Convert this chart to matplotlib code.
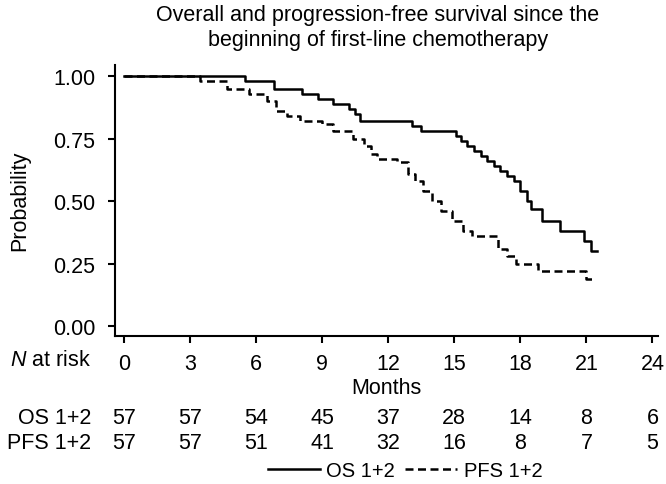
import matplotlib

matplotlib.use("Agg")

import matplotlib.pyplot as plt
from matplotlib.lines import Line2D
from matplotlib.transforms import blended_transform_factory

plt.rcParams["font.family"] = ["Liberation Sans", "DejaVu Sans"]
plt.rcParams["mathtext.fontset"] = "custom"
plt.rcParams["mathtext.it"] = "Liberation Sans:italic"
plt.rcParams["mathtext.rm"] = "Liberation Sans"

# Kaplan-Meier steps (months, probability)
os_time = [0, 5.5, 6.8, 8.1, 8.8, 9.5, 10.2, 10.5, 10.7, 13.1, 13.5, 15.1, 15.3, 15.6,
           15.9, 16.2, 16.5, 16.8, 17.1, 17.4, 17.7, 18.0, 18.3, 18.5, 19.0, 19.8, 20.9,
           21.2, 21.5]
os_surv = [1.0, 0.982, 0.947, 0.93, 0.91, 0.89, 0.87, 0.85, 0.82, 0.80, 0.78, 0.76, 0.74,
           0.72, 0.70, 0.68, 0.66, 0.64, 0.62, 0.60, 0.58, 0.54, 0.50, 0.47, 0.42, 0.38,
           0.34, 0.30, 0.30]

pfs_time = [0, 3.45, 4.7, 5.7, 6.5, 6.9, 7.4, 8.0, 9.0, 9.5, 10.4, 10.9, 11.2, 11.5,
            12.4, 12.9, 13.2, 13.6, 14.0, 14.4, 14.9, 15.4, 15.8, 17.0, 17.4, 17.8, 18.8,
            21.0, 21.4]
pfs_surv = [1.0, 0.982, 0.947, 0.93, 0.90, 0.86, 0.84, 0.82, 0.81, 0.78, 0.75, 0.72, 0.69,
            0.67, 0.655, 0.61, 0.58, 0.54, 0.50, 0.46, 0.42, 0.38, 0.36, 0.31, 0.28, 0.25,
            0.22, 0.19, 0.19]

risk_times = [0, 3, 6, 9, 12, 15, 18, 21, 24]
os_risk = [57, 57, 54, 45, 37, 28, 14, 8, 6]
pfs_risk = [57, 57, 51, 41, 32, 16, 8, 7, 5]
y_ticks = [0.0, 0.25, 0.5, 0.75, 1.0]

W, H = 666, 485
fig = plt.figure(figsize=(W / 100, H / 100), dpi=100)
ax = fig.add_axes([115 / W, 1 - 337 / H, (658 - 115) / W, (337 - 66) / H])

lw = 1.8
dash = (0, (3.2, 1.8))
ax.step(os_time, os_surv, where="post", color="black", lw=lw, label="OS 1+2")
ax.step(pfs_time, pfs_surv, where="post", color="black", lw=lw,
        linestyle=dash, label="PFS 1+2")

ax.set_xlim(-0.4, 24.25)
ax.set_ylim(-0.04, 1.045)
ax.set_xticks(risk_times)
ax.set_xticklabels([str(t) for t in risk_times])
ax.set_yticks(y_ticks)
ax.set_yticklabels([f"{v:.2f}" for v in y_ticks])
fs = 15.5
ax.tick_params(axis="both", direction="out", length=5, width=1.5, labelsize=fs,
               colors="black")
ax.tick_params(axis="x", pad=7)
ax.tick_params(axis="y", pad=9)
for side in ("top", "right"):
    ax.spines[side].set_visible(False)
for side in ("left", "bottom"):
    ax.spines[side].set_linewidth(1.5)

fig.text(20 / W, 1 - 201 / H, "Probability", rotation=90, ha="center", va="center", fontsize=fs)
fig.text(378 / W, 1 - 28 / H,
         "Overall and progression-free survival since the\nbeginning of first-line chemotherapy",
         ha="center", va="center", fontsize=fs, linespacing=1.25)

# number-at-risk table under the x axis
fig.text(91 / W, 1 - 361 / H, r"$\mathit{N}$ at risk", ha="right", va="center", fontsize=fs)
fig.text(386 / W, 1 - 388 / H, "Months", ha="center", va="center", fontsize=fs)
fig.text(91 / W, 1 - 418 / H, "OS 1+2", ha="right", va="center", fontsize=fs)
fig.text(91 / W, 1 - 444 / H, "PFS 1+2", ha="right", va="center", fontsize=fs)
trans = blended_transform_factory(ax.transData, fig.transFigure)
for t, n_os, n_pfs in zip(risk_times, os_risk, pfs_risk):
    ax.text(t, 1 - 418 / H, str(n_os), transform=trans, ha="center", va="center", fontsize=fs)
    ax.text(t, 1 - 444 / H, str(n_pfs), transform=trans, ha="center", va="center", fontsize=fs)

handles = [Line2D([], [], color="black", lw=lw),
           Line2D([], [], color="black", lw=lw, linestyle=dash)]
fig.legend(handles, ["OS 1+2", "PFS 1+2"], loc="center", bbox_to_anchor=(405 / W, 1 - 472 / H),
           ncol=2, frameon=False, fontsize=fs - 1, handlelength=2.6, handletextpad=0.3,
           columnspacing=0.5, borderpad=0, borderaxespad=0)

fig.savefig("out.png", dpi=100)
